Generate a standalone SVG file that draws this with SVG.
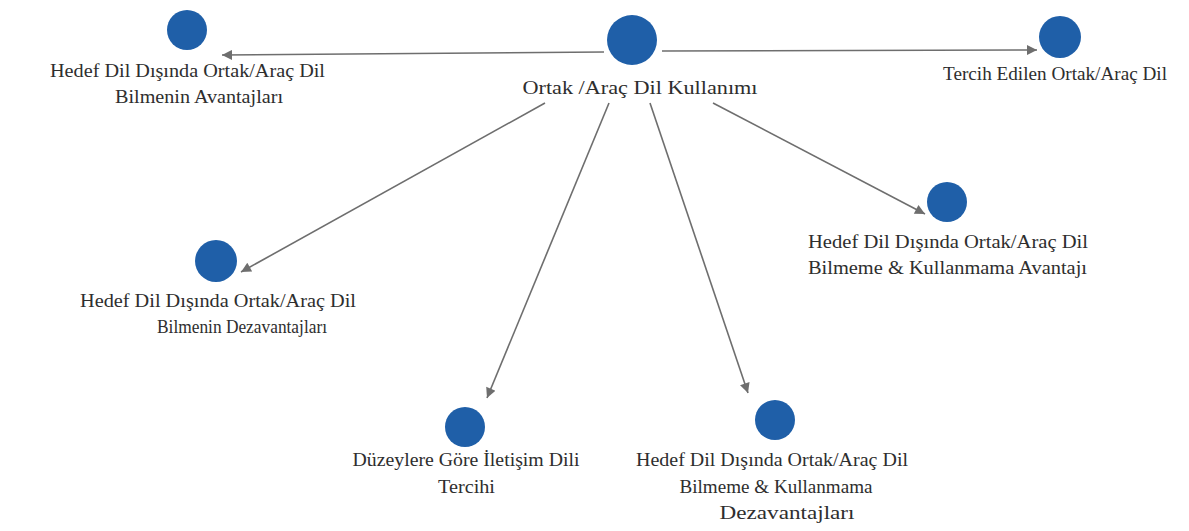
<svg xmlns="http://www.w3.org/2000/svg" width="1189" height="531" viewBox="0 0 1189 531">
<style>
.n{fill:#1f5fa8}
.t{font-size:18px;fill:#2e2e2e;text-anchor:middle}
.e{stroke:#6e6e6e;stroke-width:1.6;fill:none}
</style>
<defs>
<marker id="ah" viewBox="0 0 10 10" refX="10" refY="5" markerWidth="14" markerHeight="10" markerUnits="userSpaceOnUse" orient="auto">
<path d="M0,0 L10,5 L0,10 Z" fill="#6e6e6e"/>
</marker>
</defs>
<rect width="1189" height="531" fill="#ffffff"/>
<g id="edges">
<line class="e" x1="604" y1="52" x2="222" y2="55" marker-end="url(#ah)"/>
<line class="e" x1="662" y1="51" x2="1037" y2="50" marker-end="url(#ah)"/>
<line class="e" x1="545" y1="103" x2="241" y2="272" marker-end="url(#ah)"/>
<line class="e" x1="609" y1="103" x2="487" y2="398" marker-end="url(#ah)"/>
<line class="e" x1="650" y1="103" x2="748" y2="393" marker-end="url(#ah)"/>
<line class="e" x1="713" y1="103" x2="925" y2="214" marker-end="url(#ah)"/>
</g>
<g font-family="Liberation Serif, DejaVu Serif, serif">
<g id="center">
<circle class="n" cx="632" cy="40" r="25"/>
<text class="t" x="640" y="94" textLength="235" lengthAdjust="spacingAndGlyphs">Ortak /Araç Dil Kullanımı</text>
</g>
<g id="n-avantaj">
<circle class="n" cx="187" cy="30" r="20"/>
<text class="t" x="187.5" y="77" textLength="275" lengthAdjust="spacingAndGlyphs">Hedef Dil Dışında Ortak/Araç Dil</text>
<text class="t" x="199" y="103" textLength="168" lengthAdjust="spacingAndGlyphs">Bilmenin Avantajları</text>
</g>
<g id="n-tercih">
<circle class="n" cx="1060" cy="37" r="21"/>
<text class="t" x="1055" y="80" textLength="224" lengthAdjust="spacingAndGlyphs">Tercih Edilen Ortak/Araç Dil</text>
</g>
<g id="n-dezavantaj">
<circle class="n" cx="216" cy="261" r="21"/>
<text class="t" x="218" y="307" textLength="276" lengthAdjust="spacingAndGlyphs">Hedef Dil Dışında Ortak/Araç Dil</text>
<text class="t" x="242" y="333" textLength="170" lengthAdjust="spacingAndGlyphs">Bilmenin Dezavantajları</text>
</g>
<g id="n-bilmeme-avantaj">
<circle class="n" cx="947" cy="202" r="20"/>
<text class="t" x="948" y="248" textLength="280" lengthAdjust="spacingAndGlyphs">Hedef Dil Dışında Ortak/Araç Dil</text>
<text class="t" x="947.5" y="274" textLength="279" lengthAdjust="spacingAndGlyphs">Bilmeme &amp; Kullanmama Avantajı</text>
</g>
<g id="n-duzey">
<circle class="n" cx="465" cy="427" r="20"/>
<text class="t" x="466" y="466" textLength="227" lengthAdjust="spacingAndGlyphs">Düzeylere Göre İletişim Dili</text>
<text class="t" x="466.5" y="493" textLength="57" lengthAdjust="spacingAndGlyphs">Tercihi</text>
</g>
<g id="n-bilmeme-dezavantaj">
<circle class="n" cx="775" cy="420" r="20"/>
<text class="t" x="772" y="466" textLength="272" lengthAdjust="spacingAndGlyphs">Hedef Dil Dışında Ortak/Araç Dil</text>
<text class="t" x="776" y="493" textLength="193" lengthAdjust="spacingAndGlyphs">Bilmeme &amp; Kullanmama</text>
<text class="t" x="787" y="519" textLength="135" lengthAdjust="spacingAndGlyphs">Dezavantajları</text>
</g>
</g>
</svg>
